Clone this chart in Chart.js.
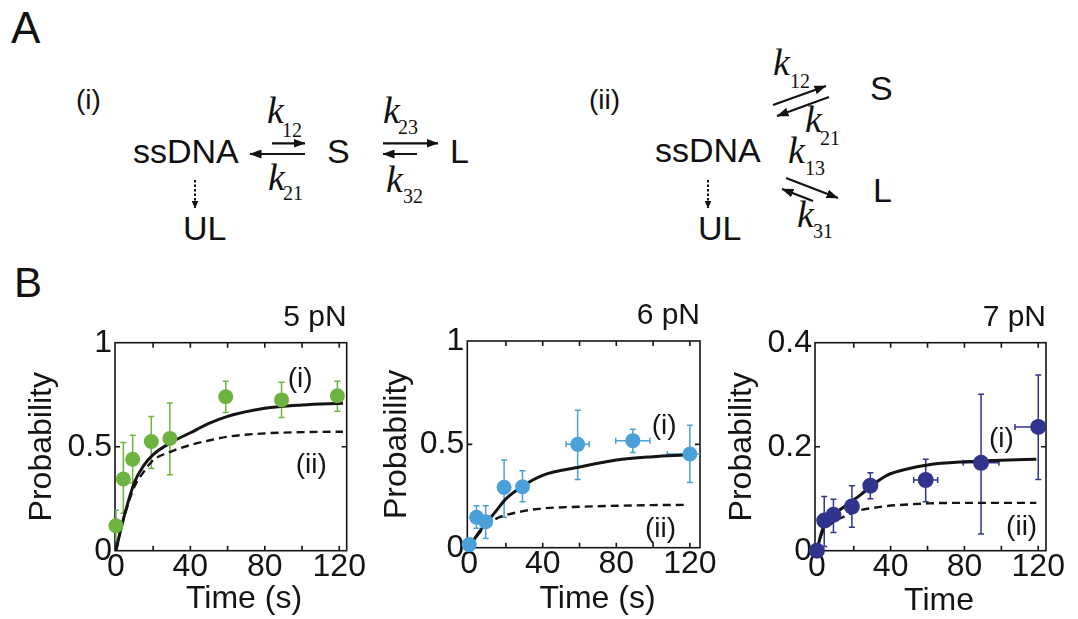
<!DOCTYPE html>
<html>
<head>
<meta charset="utf-8">
<title>Kinetic schemes and probability vs time at 5, 6 and 7 pN</title>
<script src="https://cdn.jsdelivr.net/npm/chart.js@4.4.1/dist/chart.umd.min.js"></script>
<style>
  html, body { margin: 0; padding: 0; background: #fff; }
  #fig { position: relative; width: 1078px; height: 619px; overflow: hidden; }
  #fig canvas { position: absolute; }
  #scheme { position: absolute; left: 0; top: 0; }
  #scheme .sans { font-family: "Liberation Sans", Arial, sans-serif; }
  #scheme .k { font-family: "Liberation Serif", "Times New Roman", serif; font-style: italic; }
  #scheme .sub { font-family: "Liberation Serif", "Times New Roman", serif; }
</style>
</head>
<body>
<div id="fig">
  <!-- panel A: kinetic schemes -->
  <svg id="scheme" width="1078" height="619">
    <defs>
      <marker id="ah" viewBox="0 0 12 9" refX="11.5" refY="4.5" markerWidth="12" markerHeight="9"
              markerUnits="userSpaceOnUse" orient="auto"><path d="M0,0 L12,4.5 L0,9 Z" fill="#111"/></marker>
      <marker id="ahs" viewBox="0 0 8 7" refX="7.5" refY="3.5" markerWidth="8" markerHeight="7"
              markerUnits="userSpaceOnUse" orient="auto"><path d="M0,0 L8,3.5 L0,7 Z" fill="#111"/></marker>
    </defs>
    <g class="sans" fill="#111">
      <text x="11" y="43" font-size="44">A</text>
      <text x="14" y="297" font-size="42">B</text>
      <text x="76" y="109" font-size="28">(i)</text>
      <text x="133" y="163" font-size="34">ssDNA</text>
      <text x="327" y="163" font-size="34">S</text>
      <text x="450" y="163" font-size="34">L</text>
      <text x="183" y="240" font-size="34">UL</text>
      <text x="589" y="109" font-size="28">(ii)</text>
      <text x="655" y="162" font-size="34">ssDNA</text>
      <text x="870" y="100" font-size="34">S</text>
      <text x="873" y="201.5" font-size="34">L</text>
      <text x="698" y="240" font-size="34">UL</text>
    </g>
    <g fill="#111">
      <text class="k" x="267" y="123" font-size="38">k</text><text class="sub" x="282" y="136.5" font-size="20">12</text>
      <text class="k" x="268" y="190" font-size="38">k</text><text class="sub" x="283" y="200" font-size="20">21</text>
      <text class="k" x="383" y="123" font-size="38">k</text><text class="sub" x="398" y="133.5" font-size="20">23</text>
      <text class="k" x="386" y="191.5" font-size="38">k</text><text class="sub" x="403" y="203" font-size="20">32</text>
      <text class="k" x="773" y="75" font-size="38">k</text><text class="sub" x="790" y="88" font-size="20">12</text>
      <text class="k" x="805" y="131.5" font-size="38">k</text><text class="sub" x="820" y="145" font-size="20">21</text>
      <text class="k" x="788" y="163" font-size="38">k</text><text class="sub" x="805" y="175" font-size="20">13</text>
      <text class="k" x="797" y="226.5" font-size="38">k</text><text class="sub" x="813" y="238" font-size="20">31</text>
    </g>
    <g stroke="#111" stroke-width="2.2" fill="none">
      <line x1="272" y1="143.3" x2="305" y2="143.3" marker-end="url(#ah)"/>
      <line x1="305" y1="154" x2="250" y2="154" marker-end="url(#ah)"/>
      <line x1="383" y1="143.3" x2="438" y2="143.3" marker-end="url(#ah)"/>
      <line x1="417" y1="154" x2="383" y2="154" marker-end="url(#ah)"/>
      <line x1="773" y1="105" x2="826" y2="86" marker-end="url(#ah)"/>
      <line x1="829" y1="97" x2="777" y2="116" marker-end="url(#ah)"/>
      <line x1="786" y1="178" x2="838" y2="198" marker-end="url(#ah)"/>
      <line x1="813" y1="201" x2="782" y2="189" marker-end="url(#ah)"/>
      <line x1="195" y1="180" x2="195" y2="208" stroke-width="2" stroke-dasharray="2.5 2" marker-end="url(#ahs)"/>
      <line x1="708" y1="180" x2="708" y2="208" stroke-width="2" stroke-dasharray="2.5 2" marker-end="url(#ahs)"/>
    </g>
  </svg>

  <canvas id="c5" width="380" height="329" style="left:0;top:290px"></canvas>
  <canvas id="c6" width="350" height="329" style="left:380px;top:290px"></canvas>
  <canvas id="c7" width="353" height="329" style="left:725px;top:290px"></canvas>
</div>

<script>
// ── shared axis setup ────────────────────────────────────────────────────────
const X_TICKS  = [0, 20, 40, 60, 80, 100, 120];
const X_LABELS = [0, 40, 80, 120];
const Y_TICKS_1  = [0, 0.5, 1];
const Y_TICKS_04 = [0, 0.2, 0.4];

// ── 5 pN ────────────────────────────────────────────────────────────────────
const T5     = [0, 4, 9, 19, 29, 59, 89, 119];
const P5     = [0.12, 0.345, 0.44, 0.525, 0.54, 0.74, 0.725, 0.745];
const P5_HI  = [0.195, 0.52, 0.555, 0.645, 0.71, 0.815, 0.81, 0.815];
const P5_LO  = [0.05, 0.18, 0.325, 0.395, 0.365, 0.665, 0.64, 0.67];
const T5_ERR = [0, 0, 0, 0, 0, 0, 0, 0];
const FIT5_T  = [0, 2, 5, 10, 15, 20, 30, 40, 50, 60, 80, 100, 122];
const FIT5_I  = [0, 0.08, 0.185, 0.33, 0.41, 0.462, 0.522, 0.567, 0.612, 0.646, 0.685, 0.701, 0.709];
const FIT5_II = [0, 0.08, 0.18, 0.31, 0.38, 0.435, 0.478, 0.508, 0.53, 0.548, 0.564, 0.570, 0.572];

// ── 6 pN ────────────────────────────────────────────────────────────────────
const T6     = [0, 4, 9, 19, 29, 59, 89, 120];
const P6     = [0.015, 0.147, 0.126, 0.292, 0.295, 0.5, 0.518, 0.453];
const P6_HI  = [0.015, 0.203, 0.203, 0.424, 0.372, 0.665, 0.573, 0.593];
const P6_LO  = [0.015, 0.094, 0.045, 0.147, 0.222, 0.33, 0.46, 0.316];
const T6_ERR = [0, 0, 0, 0, 0, 6.3, 9.3, 12.3];
const FIT6_T  = [0, 5, 10, 15, 20, 30, 40, 60, 80, 100, 117];
const FIT6_I  = [0, 0.07, 0.126, 0.182, 0.236, 0.303, 0.35, 0.39, 0.424, 0.44, 0.448];
const FIT6_II = [0, 0.065, 0.11, 0.142, 0.158, 0.178, 0.19, 0.198, 0.203, 0.206, 0.207];

// ── 7 pN ────────────────────────────────────────────────────────────────────
const T7     = [0, 4, 9, 19, 29, 59, 89, 120];
const P7     = [0.0, 0.058, 0.069, 0.085, 0.125, 0.136, 0.169, 0.238];
const P7_HI  = [0.0, 0.104, 0.099, 0.125, 0.15, 0.176, 0.301, 0.338];
const P7_LO  = [0.0, 0.008, 0.035, 0.045, 0.10, 0.094, 0.032, 0.137];
const T7_ERR = [0, 0, 0, 0, 0, 6.5, 9.7, 12.6];
const FIT7_T  = [0, 3, 7, 15, 23.5, 30, 38, 50, 60, 80, 100, 119];
const FIT7_I  = [0, 0.04, 0.062, 0.085, 0.107, 0.126, 0.145, 0.158, 0.165, 0.171, 0.174, 0.176];
const FIT7_II = [0, 0.035, 0.05, 0.066, 0.078, 0.082, 0.086, 0.089, 0.091, 0.092, 0.092, 0.092];

const INK  = '#141414';
const FONT = '"Liberation Sans", Arial, sans-serif';
const TICK = 5;

const xy = (xs, ys) => xs.map((x, i) => ({ x, y: ys[i] }));

// frame with inward ticks, error bars, curve labels and x title
function figurePlugin(c) {
  return {
    id: 'figure',
    beforeDatasetsDraw(chart) {
      const { ctx, chartArea: a, scales: { x, y } } = chart;
      ctx.save();
      ctx.strokeStyle = INK;
      ctx.lineWidth = 1.6;
      ctx.strokeRect(a.left, a.top, a.width, a.height);
      ctx.beginPath();
      X_TICKS.forEach(v => {
        const px = x.getPixelForValue(v);
        if (px - a.left < 3 || a.right - px < 3) return;
        ctx.moveTo(px, a.bottom); ctx.lineTo(px, a.bottom - TICK);
        ctx.moveTo(px, a.top);    ctx.lineTo(px, a.top + TICK);
      });
      c.yTicks.forEach(v => {
        const py = y.getPixelForValue(v);
        if (py - a.top < 3 || a.bottom - py < 3) return;
        ctx.moveTo(a.left, py);  ctx.lineTo(a.left + TICK, py);
        ctx.moveTo(a.right, py); ctx.lineTo(a.right - TICK, py);
      });
      ctx.stroke();

      // error bars, clipped to the plot width
      ctx.beginPath();
      ctx.rect(a.left, 0, a.width, chart.height);
      ctx.clip();
      ctx.strokeStyle = c.color;
      ctx.lineWidth = 1.5;
      ctx.beginPath();
      c.t.forEach((t, i) => {
        const px = x.getPixelForValue(t);
        const py = y.getPixelForValue(c.p[i]);
        const hi = y.getPixelForValue(c.hi[i]);
        const lo = y.getPixelForValue(c.lo[i]);
        if (lo - hi > 1) {
          ctx.moveTo(px, hi); ctx.lineTo(px, lo);
          ctx.moveTo(px - 3, hi); ctx.lineTo(px + 3, hi);
          ctx.moveTo(px - 3, lo); ctx.lineTo(px + 3, lo);
        }
        const e = c.tErr[i];
        if (e) {
          const l = x.getPixelForValue(t - e);
          const r = x.getPixelForValue(t + e);
          ctx.moveTo(l, py); ctx.lineTo(r, py);
          ctx.moveTo(l, py - 3); ctx.lineTo(l, py + 3);
          ctx.moveTo(r, py - 3); ctx.lineTo(r, py + 3);
        }
      });
      ctx.stroke();
      ctx.restore();
    },
    afterDatasetsDraw(chart) {
      const { ctx, scales: { x, y } } = chart;
      ctx.save();
      ctx.fillStyle = INK;
      ctx.textAlign = 'center';
      ctx.textBaseline = 'middle';
      ctx.font = `28px ${FONT}`;
      c.notes.forEach(n => ctx.fillText(n.text, x.getPixelForValue(n.x), y.getPixelForValue(n.y)));
      ctx.textBaseline = 'alphabetic';
      ctx.font = `32px ${FONT}`;
      ctx.fillText(c.xTitle, c.xTitleX, c.xTitleY);
      ctx.restore();
    }
  };
}

function makeChart(id, c) {
  return new Chart(document.getElementById(id), {
    type: 'scatter',
    data: {
      datasets: [
        {
          data: xy(c.t, c.p),
          backgroundColor: c.color,
          borderWidth: 0,
          pointRadius: c.r,
          pointHoverRadius: c.r,
          clip: false,
        },
        {
          type: 'line',
          data: xy(c.fitT, c.fitI),
          borderColor: INK,
          borderWidth: 3,
          pointRadius: 0,
          fill: false,
          cubicInterpolationMode: 'monotone',
        },
        {
          type: 'line',
          data: xy(c.fitT, c.fitII),
          borderColor: INK,
          borderWidth: 2.4,
          borderDash: [8, 5],
          pointRadius: 0,
          fill: false,
          cubicInterpolationMode: 'monotone',
        },
      ],
    },
    options: {
      responsive: false,
      animation: false,
      events: [],
      layout: { padding: { top: c.padTop, right: c.padRight, left: 0, bottom: 0 } },
      plugins: {
        legend: { display: false },
        tooltip: { enabled: false },
        title: {
          display: true,
          text: c.title,
          align: 'end',
          fullSize: false,
          color: INK,
          font: { family: FONT, size: 30, weight: 'normal', lineHeight: 1 },
          padding: { top: 0, bottom: 10 },
        },
      },
      scales: {
        x: {
          type: 'linear',
          min: c.xMin,
          max: c.xMax,
          grid: { display: false, drawTicks: false },
          border: { display: false },
          afterBuildTicks: s => { s.ticks = X_TICKS.map(v => ({ value: v })); },
          afterFit: s => { s.height = c.xAxisH; },
          ticks: {
            callback: v => (X_LABELS.includes(v) ? String(v) : ''),
            color: INK,
            font: { family: FONT, size: 32, lineHeight: 1 },
            padding: c.xTickPad,
            autoSkip: false,
            maxRotation: 0,
            minRotation: 0,
          },
        },
        y: {
          type: 'linear',
          min: c.yTicks[0],
          max: c.yTicks[c.yTicks.length - 1],
          grid: { display: false, drawTicks: false },
          border: { display: false },
          afterBuildTicks: s => { s.ticks = c.yTicks.map(v => ({ value: v })); },
          afterFit: s => { s.width = c.yAxisW; },
          ticks: {
            callback: v => String(v),
            color: INK,
            font: { family: FONT, size: 32, lineHeight: 1 },
            padding: 3,
          },
          title: {
            display: true,
            text: 'Probability',
            color: INK,
            font: { family: FONT, size: 32, lineHeight: 1 },
            padding: { top: c.yTitlePad, bottom: 0 },
          },
        },
      },
    },
    plugins: [figurePlugin(c)],
  });
}

makeChart('c5', {
  title: '5 pN', color: '#6db33f', r: 7.5,
  t: T5, p: P5, hi: P5_HI, lo: P5_LO, tErr: T5_ERR,
  fitT: FIT5_T, fitI: FIT5_I, fitII: FIT5_II,
  yTicks: Y_TICKS_1, xMin: -0.5, xMax: 124,
  padTop: 12.7, padRight: 33.3, yAxisW: 115, xAxisH: 68.3, xTickPad: 0, yTitlePad: 26.5,
  notes: [{ text: '(i)', x: 99, y: 0.825 }, { text: '(ii)', x: 105, y: 0.412 }],
  xTitle: 'Time (s)', xTitleX: 244, xTitleY: 318,
});

makeChart('c6', {
  title: '6 pN', color: '#4aa0d8', r: 7.5,
  t: T6, p: P6, hi: P6_HI, lo: P6_LO, tErr: T6_ERR,
  fitT: FIT6_T, fitI: FIT6_I, fitII: FIT6_II,
  yTicks: Y_TICKS_1, xMin: -1, xMax: 125.5,
  padTop: 11, padRight: 30, yAxisW: 87.3, xAxisH: 71.3, xTickPad: 0, yTitlePad: 0.7,
  notes: [{ text: '(i)', x: 106, y: 0.585 }, { text: '(ii)', x: 104, y: 0.09 }],
  xTitle: 'Time (s)', xTitleX: 217.5, xTitleY: 318,
});

makeChart('c7', {
  title: '7 pN', color: '#30348c', r: 8,
  t: T7, p: P7, hi: P7_HI, lo: P7_LO, tErr: T7_ERR,
  fitT: FIT7_T, fitI: FIT7_I, fitII: FIT7_II,
  yTicks: Y_TICKS_04, xMin: -1, xMax: 124.2,
  padTop: 12.7, padRight: 32, yAxisW: 90, xAxisH: 68.3, xTickPad: 0, yTitlePad: 0.7,
  notes: [{ text: '(i)', x: 100, y: 0.215 }, { text: '(ii)', x: 111, y: 0.045 }],
  xTitle: 'Time', xTitleX: 214, xTitleY: 320,
});
</script>
</body>
</html>
